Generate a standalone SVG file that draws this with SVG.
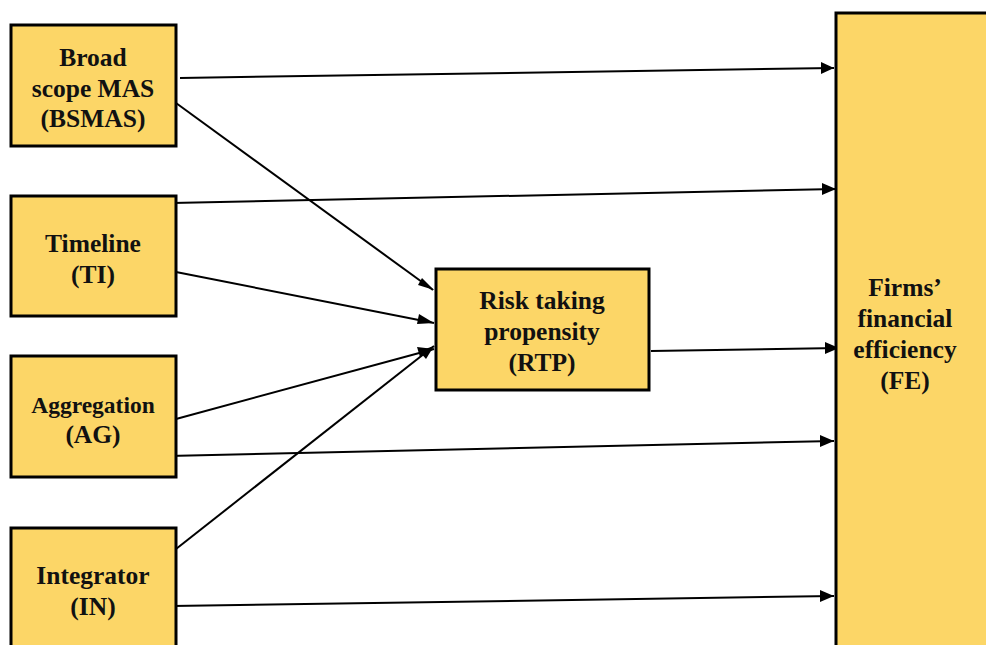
<svg xmlns="http://www.w3.org/2000/svg" width="986" height="645" viewBox="0 0 986 645">
<style>
.box{fill:#FCD667;stroke:#000;stroke-width:3}
.t{font-family:"Liberation Serif","Times New Roman",serif;font-weight:bold;font-size:25.5px;fill:#111;text-anchor:middle}
.c{stroke:#000;stroke-width:2;fill:none}
</style>
<rect x="0" y="0" width="986" height="645" fill="#fff"/>
<g id="connectors">
<line class="c" x1="180" y1="78" x2="834" y2="68"/>
<path d="M821,62 L834,68 L821,74 z"/>
<path class="c" d="M176,103 L433,290"/>
<path d="M422,278 L434,290 L418,285 z"/>
<path class="c" d="M172,203 L836,189"/>
<path d="M822,183 L836,189 L822,195 z"/>
<path class="c" d="M176,272 L434,323"/>
<path d="M419,314 L434,323 L417,324 z"/>
<path class="c" d="M176,419 L434,349"/>
<path d="M417,347 L434,349 L420,357 z"/>
<path class="c" d="M168,456 L834,441"/>
<path d="M820,435 L834,441 L820,447 z"/>
<path class="c" d="M176,549 L434,346"/>
<path d="M419,351 L434,346 L426,359 z"/>
<path class="c" d="M172,606 L834,596"/>
<path d="M820,590 L834,596 L820,602 z"/>
<path class="c" d="M651,351 L839,348"/>
<path d="M825,342 L839,348 L825,354 z"/>
</g>
<g id="bsmas">
<rect class="box" x="11" y="25" width="165" height="121"/>
<text class="t" x="93" y="66">Broad</text>
<text class="t" x="93" y="97">scope MAS</text>
<text class="t" x="93" y="127">(BSMAS)</text>
</g>
<g id="ti">
<rect class="box" x="11" y="196" width="165" height="120"/>
<text class="t" x="93" y="252">Timeline</text>
<text class="t" x="93" y="283">(TI)</text>
</g>
<g id="ag">
<rect class="box" x="11" y="356" width="165" height="121"/>
<text class="t" x="93" y="413" style="font-size:23.5px">Aggregation</text>
<text class="t" x="93" y="443">(AG)</text>
</g>
<g id="in">
<rect class="box" x="11" y="528" width="165" height="130"/>
<text class="t" x="93" y="584">Integrator</text>
<text class="t" x="93" y="615">(IN)</text>
</g>
<g id="rtp">
<rect class="box" x="436" y="269" width="213" height="121"/>
<text class="t" x="542" y="309">Risk taking</text>
<text class="t" x="542" y="340">propensity</text>
<text class="t" x="542" y="371">(RTP)</text>
</g>
<g id="fe">
<rect class="box" x="836" y="13" width="160" height="650"/>
<text class="t" x="905" y="296">Firms’</text>
<text class="t" x="905" y="327">financial</text>
<text class="t" x="905" y="358">efficiency</text>
<text class="t" x="905" y="389">(FE)</text>
</g>
</svg>
